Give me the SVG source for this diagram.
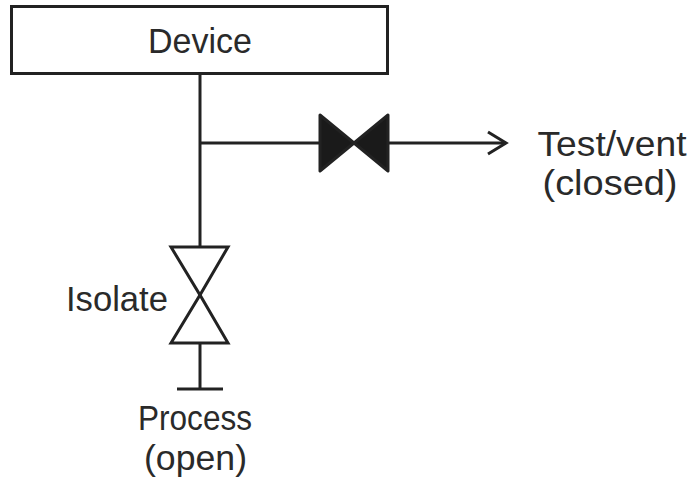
<svg xmlns="http://www.w3.org/2000/svg" width="695" height="485" viewBox="0 0 695 485">
<style>
.ln{stroke:#222;stroke-width:3;fill:none;stroke-linejoin:miter;}
.t{font-family:"Liberation Sans",Arial,sans-serif;font-size:35px;fill:#2a2a2a;}
</style>
<rect width="695" height="485" fill="#fff"/>
<g id="connectors">
<line class="ln" x1="200" y1="74" x2="200" y2="247"/>
<line class="ln" x1="200" y1="143" x2="320" y2="143"/>
<line class="ln" x1="388" y1="143" x2="506" y2="143"/>
<polyline class="ln" points="488,132 506,143 488,154"/>
<line class="ln" x1="200" y1="343" x2="200" y2="389"/>
</g>
<g id="device">
<rect class="ln" x="11.5" y="6.5" width="376" height="67"/>
<text class="t" x="200" y="53" text-anchor="middle" textLength="104" lengthAdjust="spacingAndGlyphs">Device</text>
</g>
<g id="vent-valve">
<polygon points="320,115 354,143 320,171" fill="#1a1a1a" stroke="#222" stroke-width="3" stroke-linejoin="round"/>
<polygon points="388,115 354,143 388,171" fill="#1a1a1a" stroke="#222" stroke-width="3" stroke-linejoin="round"/>
</g>
<g id="test-vent">
<text class="t" x="612" y="156" text-anchor="middle" textLength="149" lengthAdjust="spacingAndGlyphs">Test/vent</text>
<text class="t" x="610" y="195" text-anchor="middle" textLength="135" lengthAdjust="spacingAndGlyphs">(closed)</text>
</g>
<g id="isolate-valve">
<polygon class="ln" points="171,247 228,247 200,295"/>
<polygon class="ln" points="171,343 228,343 200,295"/>
<text class="t" x="168" y="311" text-anchor="end" textLength="102" lengthAdjust="spacingAndGlyphs">Isolate</text>
</g>
<g id="process">
<line class="ln" x1="177" y1="389" x2="223" y2="389"/>
<text class="t" x="195" y="430" text-anchor="middle" textLength="114" lengthAdjust="spacingAndGlyphs">Process</text>
<text class="t" x="195.5" y="470" text-anchor="middle" textLength="103" lengthAdjust="spacingAndGlyphs">(open)</text>
</g>
</svg>
